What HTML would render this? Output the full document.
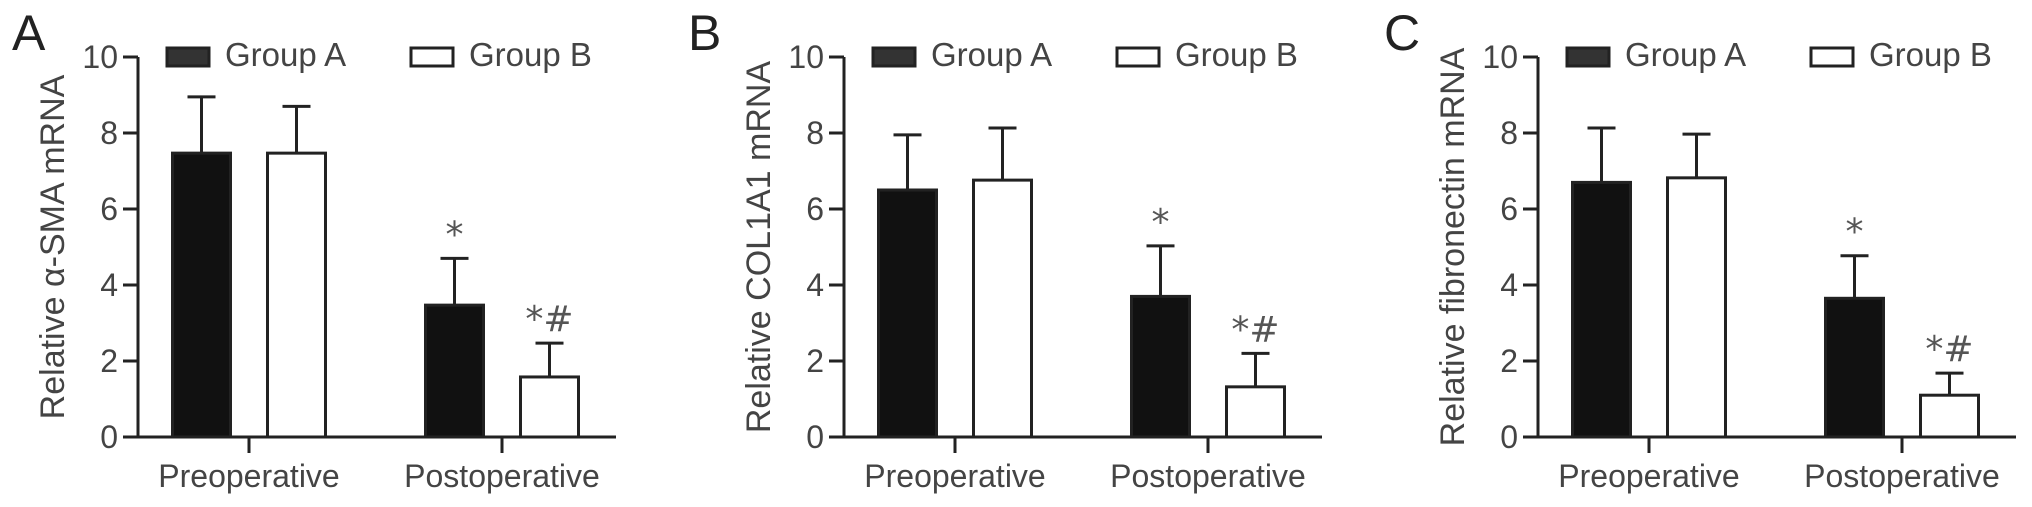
<!DOCTYPE html>
<html><head><meta charset="utf-8"><style>
html,body{margin:0;padding:0;background:#fff;}
svg{display:block;font-family:"Liberation Sans",Arial,sans-serif;}
</style></head><body>
<svg id="fig" width="2032" height="507" viewBox="0 0 2032 507" xmlns="http://www.w3.org/2000/svg"></svg>
<script>
const categories = ["Preoperative", "Postoperative"];
const seriesNames = ["Group A", "Group B"];
const panelLetters = ["A", "B", "C"];
const panelTitles = ["Relative \u03b1-SMA mRNA", "Relative COL1A1 mRNA", "Relative fibronectin mRNA"];
const yTicks = [0, 2, 4, 6, 8, 10];
// means [panel][category][series]
const meansA = [[7.47, 7.47], [3.47, 1.58]];
const errsA  = [[8.95, 8.7], [4.7, 2.47]];
const meansB = [[6.5, 6.76], [3.7, 1.32]];
const errsB  = [[7.95, 8.13], [5.03, 2.2]];
const meansC = [[6.7, 6.82], [3.65, 1.1]];
const errsC  = [[8.13, 7.97], [4.77, 1.68]];
const marks = [["", ""], ["*", "*#"]];

const panelMeans = [meansA, meansB, meansC];
const panelErrs = [errsA, errsB, errsC];
const axisX = [138, 844, 1538];
const letterX = [12, 688, 1384];
const svg = document.getElementById('fig');
const NS = "http://www.w3.org/2000/svg";
const Y0 = 437, Y10 = 57;
function yScale(v){ return Y0 - (v/10)*(Y0-Y10); }
function mk(tag, attrs, parent){
  const e = document.createElementNS(NS, tag);
  for (const k in attrs) e.setAttribute(k, attrs[k]);
  (parent||svg).appendChild(e);
  return e;
}
const ink = "#222", txt = "#444";
for (let p = 0; p < 3; p++) {
  const ax = axisX[p];
  const g = mk('g', {});
  
  
  const xScale = (c) => ax + 111 + c*253;
  const lt = mk('text', {x: letterX[p], y: 50, 'font-size': 50, fill: '#222'}, g);
  lt.textContent = panelLetters[p];
  
  
  const ya = mk('line', {x1: ax, y1: Y10, x2: ax, y2: Y0, stroke: ink, 'stroke-width': 3}, g);
  
  
  yTicks.forEach(t => {
    const y = yScale(t);
    mk('line', {x1: ax-15, y1: y, x2: ax, y2: y, stroke: ink, 'stroke-width': 3}, g);
    const tl = mk('text', {x: ax-20, y: y+11, 'font-size': 32, fill: txt, 'text-anchor': 'end'}, g);
    tl.textContent = t;
    
    
  });
  const xa = mk('line', {x1: ax-15, y1: Y0, x2: ax+478, y2: Y0, stroke: ink, 'stroke-width': 3}, g);
  
  
  const yt = mk('text', {x: 0, y: 0, 'font-size': 34, fill: txt, 'text-anchor': 'middle', transform: `translate(${ax-74},247) rotate(-90)`}, g);
  yt.textContent = panelTitles[p];
  
  
  const M = panelMeans[p], E = panelErrs[p];
  categories.forEach((cat, c) => {
    const cx = xScale(c);
    mk('line', {x1: cx, y1: Y0, x2: cx, y2: Y0+16, stroke: ink, 'stroke-width': 3}, g);
    const cl = mk('text', {x: cx, y: 487, 'font-size': 32, fill: txt, 'text-anchor': 'middle'}, g);
    cl.textContent = cat;
    
    
    for (let s = 0; s < 2; s++) {
      const bx = cx + (s === 0 ? -47.5 : 47.5);
      const yv = yScale(M[c][s]), ye = yScale(E[c][s]);
      const eb = mk('line', {x1: bx, y1: ye, x2: bx, y2: yv, stroke: ink, 'stroke-width': 3}, g);
      
      
      mk('line', {x1: bx-14, y1: ye, x2: bx+14, y2: ye, stroke: ink, 'stroke-width': 3}, g);
      const r = mk('rect', {x: bx-29, y: yv, width: 58, height: Y0-yv, fill: s === 0 ? '#111' : '#fff', stroke: ink, 'stroke-width': 3}, g);
      
      
      if (marks[c][s]) {
        const m = mk('text', {x: bx, y: ye-12, 'font-size': 36, fill: '#555', 'text-anchor': 'middle', 'font-family': '"DejaVu Sans", sans-serif'}, g);
        m.textContent = marks[c][s];
        
        
      }
    }
  });
  seriesNames.forEach((n, s) => {
    const lx = ax + (s === 0 ? 29 : 273);
    const sw = mk('rect', {x: lx, y: 48, width: 42, height: 18, fill: s === 0 ? '#333' : '#fff', stroke: ink, 'stroke-width': 3}, g);
    
    
    const lt2 = mk('text', {x: lx + 58, y: 66, 'font-size': 33, fill: txt}, g);
    lt2.textContent = n;
    
    
  });
}
</script>
</body></html>
